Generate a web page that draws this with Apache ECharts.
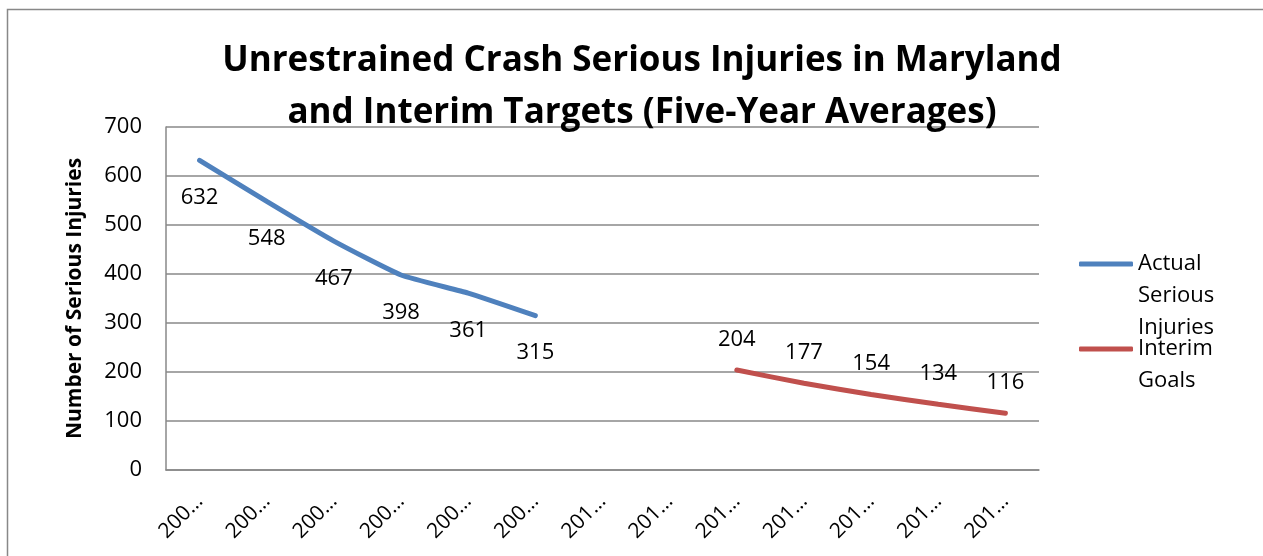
<!DOCTYPE html>
<html>
<head>
<meta charset="utf-8">
<script src="https://cdn.jsdelivr.net/npm/echarts@6/dist/echarts.min.js"></script>
<style>html,body{margin:0;padding:0;background:#fff;}#c{width:1263px;height:556px;}</style>
</head>
<body>
<div id="c"></div>
<script>
const categories = ['2004-2008','2005-2009','2006-2010','2007-2011','2008-2012','2009-2013','2010-2014','2011-2015','2012-2016','2013-2017','2014-2018','2015-2019','2016-2020'];
const actualInjuries = [632, 548, 467, 398, 361, 315, null, null, null, null, null, null, null];
const interimGoals = [null, null, null, null, null, null, null, null, 204, 177, 154, 134, 116];
const yTicks = [0, 100, 200, 300, 400, 500, 600, 700];
const titleText = 'Unrestrained Crash Serious Injuries in Maryland\nand Interim Targets (Five-Year Averages)';
const seriesNames = ['Actual Serious Injuries', 'Interim Goals'];
const legendLabels = ['\n\nActual\nSerious\nInjuries', '\nInterim\nGoals'];

const FONT = 'Open Sans';
const legendCommon = {
  orient: 'vertical', left: 1079, padding: 0,
  itemWidth: 54, itemHeight: 5, itemGap: 4, icon: 'roundRect',
  textStyle: {fontFamily: FONT, fontSize: 22, lineHeight: 32, color: '#000'}
};
const chart = echarts.init(document.getElementById('c'), null, {renderer: 'canvas'});
chart.setOption({
  animation: false,
  backgroundColor: '#fff',
  title: {
    text: titleText,
    left: 637, top: 30, textAlign: 'center',
    textStyle: {fontFamily: FONT, fontWeight: 'bold', fontSize: 35, lineHeight: 52, color: '#000'}
  },
  graphic: [{
    type: 'rect', shape: {x: 7.5, y: 9.5, width: 1400, height: 700},
    style: {fill: 'none', stroke: '#888', lineWidth: 1.5}, silent: true, z: -1
  }],
  grid: {left: 166, right: 224, top: 127, bottom: 86, containLabel: false},
  legend: [
    Object.assign({}, legendCommon, {top: 184, data: [seriesNames[0]], formatter: () => legendLabels[0]}),
    Object.assign({}, legendCommon, {top: 301, data: [seriesNames[1]], formatter: () => legendLabels[1]})
  ],
  xAxis: {
    type: 'category', data: categories, boundaryGap: true,
    axisLine: {lineStyle: {color: '#888', width: 1.5}},
    axisTick: {show: false},
    axisLabel: {
      rotate: 45, margin: 28, interval: 0,
      fontFamily: FONT, fontSize: 21, color: '#000',
      formatter: v => v.slice(0, 3) + '…'
    }
  },
  yAxis: {
    type: 'value', min: yTicks[0], max: yTicks[yTicks.length - 1], interval: 100,
    name: 'Number of Serious Injuries', nameLocation: 'middle', nameGap: 80, nameRotate: 90,
    nameTextStyle: {fontFamily: FONT, fontWeight: 'bold', fontSize: 21, color: '#000'},
    axisLine: {show: true, lineStyle: {color: '#888', width: 1.5}},
    axisTick: {show: false},
    axisLabel: {fontFamily: FONT, fontSize: 22, color: '#000', margin: 24},
    splitLine: {lineStyle: {color: '#888', width: 1.5}}
  },
  series: [
    {
      name: seriesNames[0], type: 'line', data: actualInjuries, connectNulls: false,
      smooth: 0.15, symbol: 'circle', symbolSize: 1, showSymbol: true,
      lineStyle: {color: '#4F81BD', width: 5, cap: 'round'}, itemStyle: {color: '#4F81BD'},
      label: {show: true, position: 'bottom', distance: 26, fontFamily: FONT, fontSize: 22, color: '#000'}
    },
    {
      name: seriesNames[1], type: 'line', data: interimGoals, connectNulls: false,
      smooth: 0.15, symbol: 'circle', symbolSize: 1, showSymbol: true,
      lineStyle: {color: '#C0504D', width: 5, cap: 'round'}, itemStyle: {color: '#C0504D'},
      label: {show: true, position: 'top', distance: 19, fontFamily: FONT, fontSize: 22, color: '#000'}
    }
  ]
});
</script>
</body>
</html>
